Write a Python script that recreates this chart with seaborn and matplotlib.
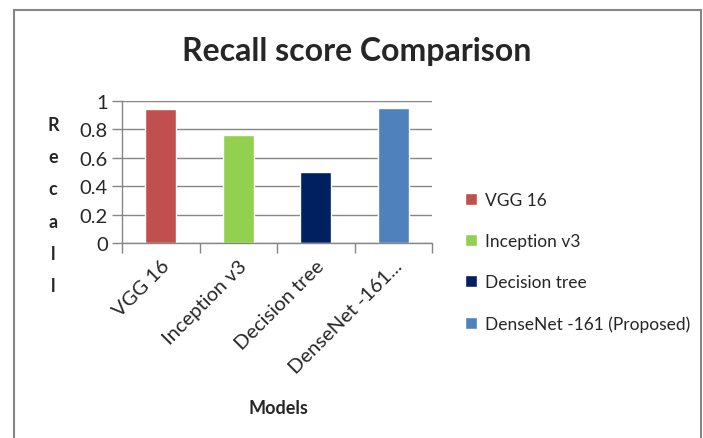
import matplotlib
matplotlib.use("Agg")
import matplotlib.pyplot as plt
import matplotlib.patches as mpatches
import seaborn as sns
import pandas as pd

models = ["VGG 16", "Inception v3", "Decision tree", "DenseNet -161 (Proposed)"]
tick_labels = ["VGG 16", "Inception v3", "Decision tree", "DenseNet -161..."]
recall = [0.945, 0.758, 0.502, 0.952]
colors = ["#C0504D", "#92D050", "#002060", "#4F81BD"]
yticks = [0, 0.2, 0.4, 0.6, 0.8, 1]
ytick_labels = ["0", "0.2", "0.4", "0.6", "0.8", "1"]

sns.set_theme(style="white")
plt.rcParams["font.family"] = ["Lato", "DejaVu Sans"]

df = pd.DataFrame({"model": models, "recall": recall})

fig = plt.figure(figsize=(7.03, 4.39), dpi=100)
ax = fig.add_axes([122/703, 1-244/439, 310/703, 142/439])

sns.barplot(data=df, x="model", y="recall", hue="model", palette=colors,
            width=0.4, dodge=False, legend=True, ax=ax, saturation=1)

ax.set_xlim(-0.5, 3.5)
ax.set_ylim(0, 1)
ax.set_yticks(yticks)
ax.set_yticklabels(ytick_labels, fontsize=14.5)
ax.set_xticks(range(len(models)))
ax.set_xticklabels(tick_labels, rotation=45, ha="right", rotation_mode="anchor", fontsize=14.5)
ax.set_xticks([i - 0.5 for i in range(len(models) + 1)], minor=True)
ax.tick_params(axis="x", which="major", length=0, pad=10)
ax.tick_params(axis="x", which="minor", length=7, color="#868686", width=1, direction="out", bottom=True)
ax.tick_params(axis="y", length=7, color="#868686", width=1, direction="out", left=True, pad=3)

ax.grid(axis="y", color="#868686", linewidth=1)
ax.set_axisbelow(True)
for s in ["top", "right"]:
    ax.spines[s].set_visible(False)
for s in ["left", "bottom"]:
    ax.spines[s].set_color("#868686")
    ax.spines[s].set_linewidth(1)

ax.set_xlabel("Models", fontsize=13, fontweight="bold")
ax.xaxis.set_label_coords(0.505, (244-400)/142)
ax.set_ylabel("\n".join("Recall"), rotation=0, fontsize=13, fontweight="bold",
              linespacing=2.08, va="center", ha="center")
ax.yaxis.set_label_coords((53-122)/310, (244-206)/142)

fig.text(357/703, 1-52/439, "Recall score Comparison", ha="center", va="center",
         fontsize=23, fontweight="bold")

handles, labels = ax.get_legend_handles_labels()
ax.legend(handles, labels, loc="center left", bbox_to_anchor=(465/703, 1-263/439),
          bbox_transform=fig.transFigure, frameon=False, fontsize=12.5,
          handlelength=0.7, handleheight=0.7, handletextpad=0.45,
          labelspacing=1.45, borderpad=0, borderaxespad=0)

border = mpatches.Rectangle((14/703, -0.02), (701-14)/703, 1.02-11/439,
                            transform=fig.transFigure, fill=False,
                            edgecolor="#868686", linewidth=1.5)
fig.patches.append(border)

fig.savefig("out.png", dpi=100, facecolor="white")
